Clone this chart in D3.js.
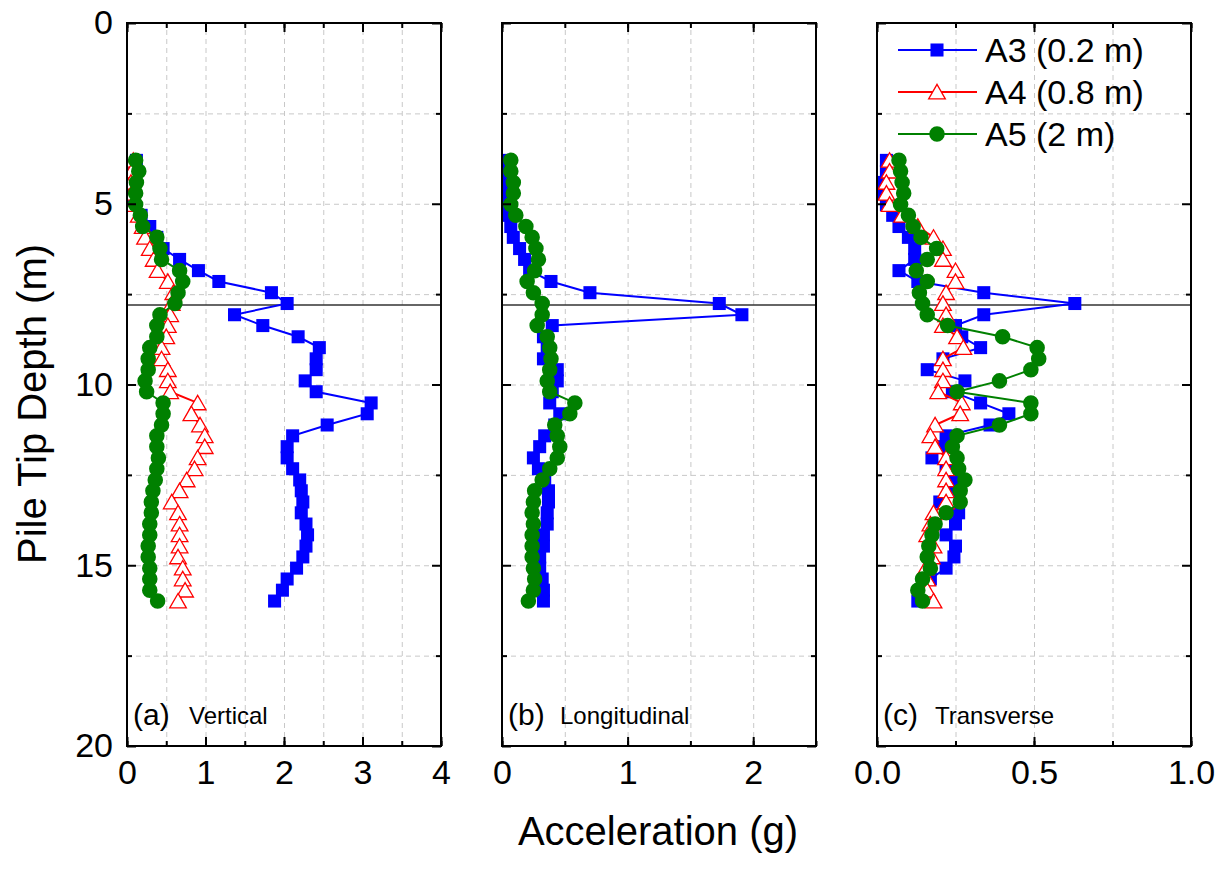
<!DOCTYPE html>
<html>
<head>
<meta charset="utf-8">
<script src="https://cdn.jsdelivr.net/npm/d3@7"></script>
<style>
  body { margin: 0; background: #fff; }
  svg { font-family: Arial, "Liberation Sans", sans-serif; }
  .grid line { stroke: #c8c8c8; stroke-width: 1; stroke-dasharray: 5,4; }
  .grid path { display: none; }
  .ax path { display: none; }
  .ax line { stroke: #000; stroke-width: 2; }
  .ax text { font-size: 34px; fill: #000; }
</style>
</head>
<body>
<div id="chart"></div>
<script>
// depth of the pile tip at each reading (m)
var depths = [3.80, 4.10, 4.41, 4.71, 5.02, 5.32, 5.63, 5.93, 6.24, 6.54, 6.85, 7.15, 7.46, 7.76,
  8.07, 8.37, 8.68, 8.98, 9.29, 9.59, 9.90, 10.20, 10.51, 10.81, 11.12, 11.42, 11.72, 12.03,
  12.33, 12.64, 12.94, 13.25, 13.55, 13.86, 14.16, 14.47, 14.77, 15.08, 15.38, 15.69, 15.99];

// (a) vertical
var a3Vert = [0.12, 0.08, 0.05, 0.06, 0.08, 0.18, 0.29, 0.38, 0.46, 0.67, 0.91, 1.17, 1.84, 2.04,
  1.37, 1.73, 2.18, 2.45, 2.41, 2.41, 2.27, 2.41, 3.11, 3.06, 2.55, 2.11, 2.04, 2.04,
  2.11, 2.20, 2.22, 2.24, 2.22, 2.28, 2.30, 2.28, 2.24, 2.16, 2.04, 1.98, 1.88];
var a4Vert = [0.08, 0.06, 0.05, 0.06, 0.08, 0.15, 0.20, 0.23, 0.29, 0.34, 0.39, 0.52, 0.59, 0.57,
  0.55, 0.52, 0.50, 0.44, 0.44, 0.52, 0.52, 0.55, 0.90, 0.82, 0.93, 0.99, 0.99, 0.90,
  0.86, 0.76, 0.67, 0.57, 0.65, 0.67, 0.67, 0.67, 0.65, 0.71, 0.71, 0.74, 0.65];
var a5Vert = [0.11, 0.15, 0.12, 0.11, 0.11, 0.17, 0.20, 0.38, 0.42, 0.44, 0.67, 0.71, 0.65, 0.61,
  0.42, 0.38, 0.38, 0.29, 0.27, 0.27, 0.23, 0.25, 0.46, 0.46, 0.44, 0.38, 0.38, 0.40,
  0.38, 0.36, 0.33, 0.31, 0.31, 0.29, 0.29, 0.27, 0.27, 0.29, 0.29, 0.29, 0.39];

// (b) longitudinal (no A4 record)
var a3Long = [0.02, 0.02, 0.03, 0.03, 0.04, 0.05, 0.07, 0.09, 0.14, 0.18, 0.22, 0.39, 0.70, 1.73,
  1.91, 0.40, 0.33, 0.36, 0.33, 0.44, 0.44, 0.40, 0.38, 0.46, 0.42, 0.34, 0.30, 0.25,
  0.29, 0.34, 0.37, 0.37, 0.36, 0.36, 0.33, 0.33, 0.30, 0.30, 0.32, 0.33, 0.33];
var a5Long = [0.07, 0.07, 0.09, 0.09, 0.07, 0.11, 0.19, 0.24, 0.27, 0.29, 0.26, 0.20, 0.25, 0.32,
  0.32, 0.28, 0.36, 0.38, 0.39, 0.38, 0.36, 0.38, 0.58, 0.54, 0.42, 0.44, 0.46, 0.44,
  0.38, 0.32, 0.26, 0.25, 0.24, 0.25, 0.24, 0.24, 0.24, 0.25, 0.26, 0.25, 0.21];

// (c) transverse
var a3Trans = [0.03, 0.03, 0.02, 0.02, 0.03, 0.05, 0.07, 0.10, 0.12, 0.12, 0.07, 0.13, 0.34, 0.63,
  0.34, 0.25, 0.27, 0.33, 0.21, 0.16, 0.28, 0.24, 0.33, 0.42, 0.36, 0.22, 0.21, 0.175,
  0.22, 0.24, 0.23, 0.20, 0.26, 0.25, 0.22, 0.25, 0.245, 0.22, 0.17, 0.14, 0.13];
var a4Trans = [0.04, 0.04, 0.03, 0.03, 0.04, 0.08, 0.13, 0.18, 0.21, 0.21, 0.25, 0.25, 0.22, 0.21,
  0.22, 0.21, 0.255, 0.275, 0.21, 0.21, 0.21, 0.195, 0.27, 0.265, 0.185, 0.17, 0.185, 0.22,
  0.22, 0.22, 0.22, 0.22, 0.18, 0.17, 0.16, 0.18, 0.175, 0.155, 0.16, 0.16, 0.18];
var a5Trans = [0.07, 0.075, 0.08, 0.085, 0.075, 0.10, 0.115, 0.14, 0.19, 0.16, 0.125, 0.16, 0.135, 0.145,
  0.16, 0.225, 0.40, 0.51, 0.515, 0.49, 0.39, 0.255, 0.49, 0.49, 0.39, 0.255, 0.24, 0.255,
  0.26, 0.28, 0.265, 0.265, 0.22, 0.185, 0.175, 0.165, 0.16, 0.17, 0.145, 0.13, 0.145];

var seriesNames = ["A3 (0.2 m)", "A4 (0.8 m)", "A5 (2 m)"];
var seriesColors = ["#0000ff", "#ff0000", "#008000"];
var panelLabels = ["(a)", "(b)", "(c)"];
var panelNames = ["Vertical", "Longitudinal", "Transverse"];
var xMax = [4, 2.5, 1.0];
var xTickLabels = [[0, 1, 2, 3, 4], [0, 1, 2], [0, 0.5, 1.0]];
var xMinorStep = [0.5, 0.5, 0.25];
var depthTicks = [0, 5, 10, 15, 20];
var depthMinor = [2.5, 7.5, 12.5, 17.5];
var tipLine = 7.8;

var panels = [
  { series: [a3Vert, a4Vert, a5Vert] },
  { series: [a3Long, null, a5Long] },
  { series: [a3Trans, a4Trans, a5Trans] }
];

var svgW = 1223, svgH = 873;
var plotTop = 23, plotBottom = 746;
var panelLeft = [127, 502, 877], panelW = 314;

var svg = d3.select("#chart").append("svg")
  .attr("width", svgW)
  .attr("height", svgH);

var y = d3.scaleLinear().domain([0, 20]).range([plotTop, plotBottom]);

var symbols = [
  d3.symbol().type(d3.symbolSquare).size(170),
  d3.symbol().type(d3.symbolTriangle).size(120),
  d3.symbol().type(d3.symbolCircle).size(190)
];

function drawMarker(g, i, cx, cy) {
  g.append("path")
    .attr("d", symbols[i]())
    .attr("transform", "translate(" + cx + "," + (cy + (i == 1 ? 2 : 0)) + ")")
    .attr("fill", i == 1 ? "#fff" : seriesColors[i])
    .attr("stroke", i == 1 ? seriesColors[i] : "none")
    .attr("stroke-width", 1.3);
}

panels.forEach(function(p, k) {
  var x = d3.scaleLinear().domain([0, xMax[k]]).range([0, panelW]);
  var g = svg.append("g").attr("transform", "translate(" + panelLeft[k] + ",0)");

  // dashed grid
  var gridX = d3.range(xMinorStep[k], xMax[k] - 1e-6, xMinorStep[k]);
  g.append("g").attr("class", "grid")
    .attr("transform", "translate(0," + plotBottom + ")")
    .call(d3.axisBottom(x).tickValues(gridX).tickSize(-(plotBottom - plotTop)).tickFormat(""));
  g.append("g").attr("class", "grid")
    .call(d3.axisLeft(y).tickValues([2.5, 5, 7.5, 10, 12.5, 15, 17.5]).tickSize(-panelW).tickFormat(""));

  // pile tip reference line
  g.append("line")
    .attr("x1", 0).attr("x2", panelW)
    .attr("y1", y(tipLine)).attr("y2", y(tipLine))
    .attr("stroke", "#333").attr("stroke-width", 1.5);

  var clip = "clip" + k;
  g.append("clipPath").attr("id", clip).append("rect")
    .attr("x", 0).attr("y", plotTop).attr("width", panelW).attr("height", plotBottom - plotTop);
  var plot = g.append("g").attr("clip-path", "url(#" + clip + ")");

  p.series.forEach(function(vals, i) {
    if (!vals) return;
    var line = d3.line().x(function(d) { return x(d); }).y(function(d, j) { return y(depths[j]); });
    plot.append("path")
      .attr("d", line(vals))
      .attr("fill", "none")
      .attr("stroke", seriesColors[i])
      .attr("stroke-width", 2);
    vals.forEach(function(v, j) { drawMarker(plot, i, x(v), y(depths[j])); });
  });

  // axes with inward ticks on all four sides
  var minorX = d3.range(0, xMax[k] + 1e-6, xMinorStep[k]);
  var fmt = k == 2 ? d3.format(".1f") : d3.format("d");
  g.append("g").attr("class", "ax").attr("transform", "translate(0," + plotBottom + ")")
    .call(d3.axisBottom(x).tickValues(minorX).tickSize(-5).tickFormat(""));
  g.append("g").attr("class", "ax").attr("transform", "translate(0," + plotBottom + ")")
    .call(d3.axisBottom(x).tickValues(xTickLabels[k]).tickSize(-9).tickPadding(14).tickFormat(fmt));
  g.append("g").attr("class", "ax").attr("transform", "translate(0," + plotTop + ")")
    .call(d3.axisTop(x).tickValues(minorX).tickSize(-5).tickFormat(""));
  g.append("g").attr("class", "ax").attr("transform", "translate(0," + plotTop + ")")
    .call(d3.axisTop(x).tickValues(xTickLabels[k]).tickSize(-9).tickFormat(""));

  g.append("g").attr("class", "ax")
    .call(d3.axisLeft(y).tickValues(depthMinor).tickSize(-5).tickFormat(""));
  g.append("g").attr("class", "ax")
    .call(d3.axisLeft(y).tickValues(depthTicks).tickSize(-9).tickPadding(14)
      .tickFormat(k == 0 ? d3.format("d") : ""));
  g.append("g").attr("class", "ax").attr("transform", "translate(" + panelW + ",0)")
    .call(d3.axisRight(y).tickValues(depthMinor).tickSize(-5).tickFormat(""));
  g.append("g").attr("class", "ax").attr("transform", "translate(" + panelW + ",0)")
    .call(d3.axisRight(y).tickValues(depthTicks).tickSize(-9).tickFormat(""));

  // frame
  g.append("rect")
    .attr("x", 0).attr("y", plotTop).attr("width", panelW).attr("height", plotBottom - plotTop)
    .attr("fill", "none").attr("stroke", "#000").attr("stroke-width", 2);

  // panel label
  g.append("text").attr("x", 6).attr("y", 725)
    .style("font-size", "30px").text(panelLabels[k]);
  g.append("text").attr("x", k == 0 ? 62 : 58).attr("y", 724)
    .style("font-size", "24px").text(panelNames[k]);
});

// legend in panel (c)
var leg = svg.append("g").attr("transform", "translate(" + panelLeft[2] + ",0)");
seriesNames.forEach(function(name, i) {
  var ly = 50 + i * 42;
  leg.append("line").attr("x1", 21).attr("x2", 100).attr("y1", ly).attr("y2", ly)
    .attr("stroke", seriesColors[i]).attr("stroke-width", 2);
  drawMarker(leg, i, 60, ly);
  leg.append("text").attr("x", 108).attr("y", ly + 12)
    .style("font-size", "34px").text(name);
});

// axis titles
svg.append("text")
  .attr("transform", "translate(46,404) rotate(-90)")
  .attr("text-anchor", "middle")
  .style("font-size", "40px")
  .text("Pile Tip Depth (m)");
svg.append("text")
  .attr("x", 658).attr("y", 845)
  .attr("text-anchor", "middle")
  .style("font-size", "40px")
  .text("Acceleration (g)");
</script>
</body>
</html>
